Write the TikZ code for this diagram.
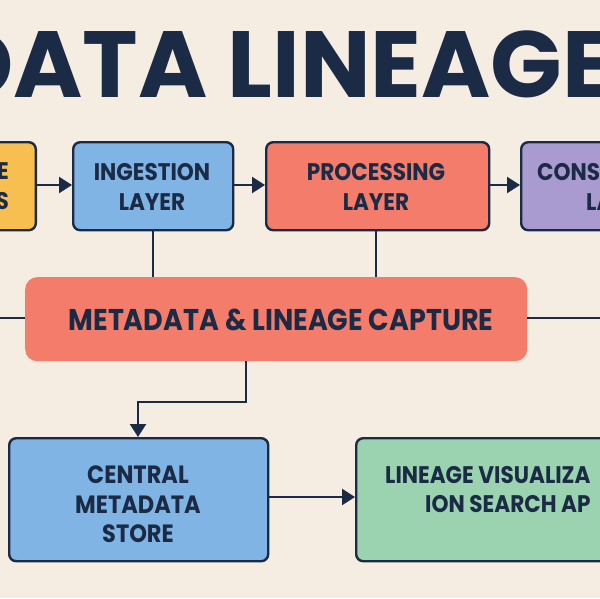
\documentclass[tikz,border=0pt]{standalone}
\usepackage{fontspec}
\setmainfont{Poppins}
\newfontfamily\labfont{Poppins}[FakeStretch=0.9]
\usetikzlibrary{arrows.meta}
\definecolor{bgc}{HTML}{F6EDE2}
\definecolor{navy}{HTML}{1B2B45}
\definecolor{yel}{HTML}{F7BF4F}
\definecolor{blu}{HTML}{80B4E4}
\definecolor{sal}{HTML}{F47C6A}
\definecolor{lav}{HTML}{A99BD0}
\definecolor{grn}{HTML}{9BD3B0}
\tikzset{
  box/.style={draw=navy, line width=2.4pt, rounded corners=7pt},
  lab/.style={text=navy, font=\labfont\bfseries\fontsize{24}{30}\selectfont, align=center, inner sep=0pt},
  conn/.style={draw=navy, line width=2.4pt},
  arr/.style={conn, -{Triangle[length=13pt,width=16pt]}},
}
\begin{document}
\begin{tikzpicture}[x=1pt,y=-1pt]
\useasboundingbox (0,0) rectangle (600,598);
\fill[bgc] (0,0) rectangle (600,598);
\clip (0,0) rectangle (600,598);
% title
\node[anchor=base west, inner sep=0pt, text=navy, font=\bfseries\fontsize{94}{94}\selectfont] (title) at (-55,97) {DATA LINEAGE};
% top row boxes
\node[box, fill=yel, minimum width=120pt, minimum height=88pt, anchor=north east] (src) at (37,141) {};
\node[box, fill=blu, minimum width=160pt, minimum height=88pt, anchor=north west] (ing) at (72,141) {};
\node[box, fill=sal, minimum width=223pt, minimum height=88pt, anchor=north west] (proc) at (265,141) {};
\node[box, fill=lav, minimum width=160pt, minimum height=88pt, anchor=north west] (cons) at (520,141) {};
\node[lab, anchor=east, align=right] (srcT) at (9,186.5) {E\\S};
\node[lab] (ingT) at (152,186.5) {INGESTION\\LAYER};
\node[lab] (procT) at (376,186.5) {PROCESSING\\LAYER};
\node[lab, anchor=base west] (consA) at (537,180) {CONS};
\node[lab, anchor=base west] (consB) at (586,210) {LA};
% metadata capture
\node[fill=sal, rounded corners=12pt, minimum width=502pt, minimum height=84pt, anchor=north west, inner sep=0pt] (meta) at (25,277) {};
\node[lab, font=\labfont\bfseries\fontsize{30}{36}\selectfont] (metaT) at (281,319.5) {METADATA \& LINEAGE CAPTURE};
% bottom row
\node[box, fill=blu, minimum width=259pt, minimum height=123pt, anchor=north west] (cms) at (8,437) {};
\node[box, fill=grn, minimum width=300pt, minimum height=123pt, anchor=north west] (vis) at (355,437) {};
\node[lab, font=\labfont\bfseries\fontsize{25}{29.5}\selectfont] (cmsT) at (138,504.5) {CENTRAL\\METADATA\\STORE};
\node[lab, anchor=base west] (visA) at (385,483) {LINEAGE VISUALIZA};
\node[lab, anchor=base west] (visB) at (425,512) {ION SEARCH AP};
% connectors
\coordinate (lend) at (0,318);
\coordinate (rend) at (600,318);
\draw[arr] (src.east |- 0,185) -- (ing.west |- 0,185);
\draw[arr] (ing.east |- 0,185) -- (proc.west |- 0,185);
\draw[arr] (proc.east |- 0,185) -- (cons.west |- 0,185);
\draw[conn] (ing.south) -- (ing.south |- meta.north);
\draw[conn] (proc.south -| 376,0) -- (376,277);
\draw[conn] (lend) -- (meta.west |- lend);
\draw[conn] (meta.east |- rend) -- (rend);
\draw[arr] (246,361) -- (246,402) -- (138,402) -- (138,437);
\draw[arr] (cms.east |- 0,497) -- (vis.west |- 0,497);
\end{tikzpicture}
\end{document}
